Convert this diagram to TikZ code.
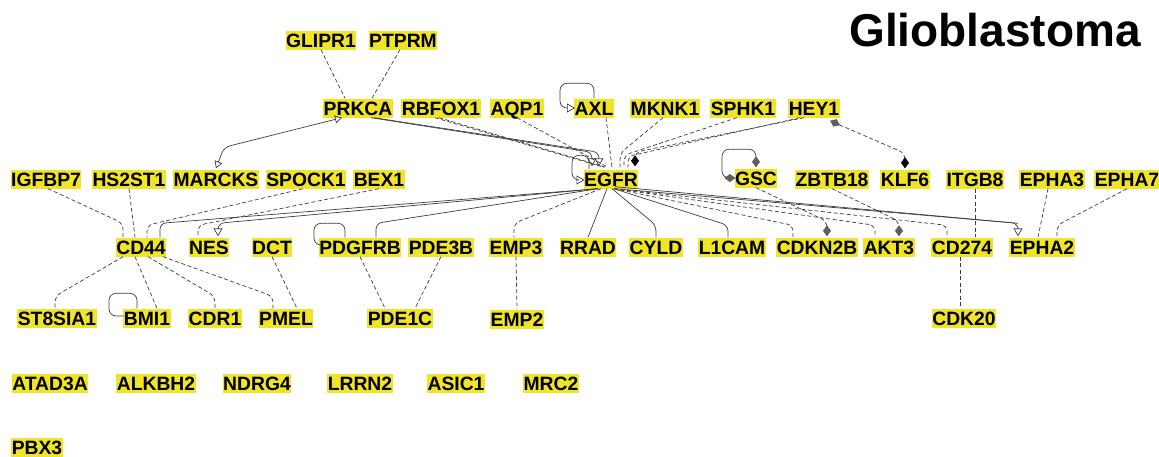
\documentclass[tikz,border=0pt]{standalone}
\usepackage{fontspec}
\setmainfont{Liberation Sans}
\usetikzlibrary{arrows.meta}
\definecolor{geneyellow}{RGB}{240,228,40}
\definecolor{edgec}{RGB}{60,60,60}
\definecolor{diagray}{RGB}{95,95,95}
\tikzset{
  gene/.style={fill=geneyellow, inner xsep=0.5pt, inner ysep=2.5pt, text height=14pt, text depth=0pt, font=\fontsize{19.3}{21}\selectfont\bfseries},
  solidrel/.style={draw=edgec, line width=0.7pt, rounded corners=6pt},
  looprel/.style={draw=edgec, line width=0.7pt, rounded corners=7pt},
  dashrel/.style={solidrel, dash pattern=on 4pt off 2.5pt},
  openarr/.style={-{Triangle[open,length=8pt,width=9pt]}},
  openboth/.style={{Triangle[open,length=7pt,width=8pt]}-{Triangle[open,length=7pt,width=8pt]}},
  graydia/.style={-{Diamond[length=11pt,width=8pt,color=diagray]}},
  blackdia/.style={-{Diamond[length=11pt,width=8pt,color=black]}},
  graybothdia/.style={{Diamond[length=11pt,width=8pt,color=diagray]}-{Diamond[length=11pt,width=8pt,color=diagray]}},
  hklf/.style={{Diamond[length=11pt,width=8pt,color=diagray]}-{Diamond[length=11pt,width=8pt,color=black]}},
  titlestyle/.style={font=\fontsize{46}{50}\selectfont\bfseries, inner sep=0pt}
}
\begin{document}
\begin{tikzpicture}[x=1pt,y=1pt]
\useasboundingbox (0,0) rectangle (1159,-456);
\node[titlestyle] (title) at (995,-30) {Glioblastoma};
% row 1
\node[gene] (glipr1) at (321,-40) {GLIPR1};
\node[gene] (ptprm) at (403,-40) {PTPRM};
% row 2
\node[gene] (prkca) at (358,-108) {PRKCA};
\node[gene] (rbfox1) at (441,-108) {RBFOX1};
\node[gene] (aqp1) at (517,-108) {AQP1};
\node[gene] (axl) at (594,-108) {AXL};
\node[gene] (mknk1) at (665,-108) {MKNK1};
\node[gene] (sphk1) at (743,-108) {SPHK1};
\node[gene] (hey1) at (814,-108) {HEY1};
% row 3
\node[gene] (igfbp7) at (46,-179) {IGFBP7};
\node[gene] (hs2st1) at (129,-179) {HS2ST1};
\node[gene] (marcks) at (216,-179) {MARCKS};
\node[gene] (spock1) at (306,-179) {SPOCK1};
\node[gene] (bex1) at (379,-179) {BEX1};
\node[gene] (egfr) at (611,-179) {EGFR};
\node[gene] (gsc) at (756,-178) {GSC};
\node[gene] (zbtb18) at (832,-179) {ZBTB18};
\node[gene] (klf6) at (905,-179) {KLF6};
\node[gene] (itgb8) at (975,-179) {ITGB8};
\node[gene] (epha3) at (1052,-179) {EPHA3};
\node[gene] (epha7) at (1127,-179) {EPHA7};
% row 4
\node[gene] (cd44) at (141,-247) {CD44};
\node[gene] (nes) at (209,-247) {NES};
\node[gene] (dct) at (272,-247) {DCT};
\node[gene] (pdgfrb) at (360,-247) {PDGFRB};
\node[gene] (pde3b) at (441,-247) {PDE3B};
\node[gene] (emp3) at (516,-247) {EMP3};
\node[gene] (rrad) at (588,-247) {RRAD};
\node[gene] (cyld) at (656,-247) {CYLD};
\node[gene] (l1cam) at (732,-247) {L1CAM};
\node[gene] (cdkn2b) at (817,-247) {CDKN2B};
\node[gene] (akt3) at (889,-247) {AKT3};
\node[gene] (cd274) at (962,-247) {CD274};
\node[gene] (epha2) at (1042,-247) {EPHA2};
% row 5
\node[gene] (st8sia1) at (57,-318) {ST8SIA1};
\node[gene] (bmi1) at (147,-318) {BMI1};
\node[gene] (cdr1) at (215,-318) {CDR1};
\node[gene] (pmel) at (286,-318) {PMEL};
\node[gene] (pde1c) at (400,-318) {PDE1C};
\node[gene] (emp2) at (517,-319) {EMP2};
\node[gene] (cdk20) at (964,-318) {CDK20};
% row 6
\node[gene] (atad3a) at (50,-383) {ATAD3A};
\node[gene] (alkbh2) at (156,-383) {ALKBH2};
\node[gene] (ndrg4) at (257,-383) {NDRG4};
\node[gene] (lrrn2) at (360,-383) {LRRN2};
\node[gene] (asic1) at (456,-383) {ASIC1};
\node[gene] (mrc2) at (551,-383) {MRC2};
% row 7
\node[gene] (pbx3) at (37,-447) {PBX3};

% ---- top relations
\draw[dashrel] (glipr1.south) -- ([xshift=-13pt]prkca.north);
\draw[dashrel] ([xshift=-3pt]ptprm.south) -- ([xshift=14pt]prkca.north);
\draw[solidrel, openboth] ([xshift=-16pt]prkca.south) -- ([xshift=8pt,yshift=22pt]marcks.north) -- ([yshift=1pt]marcks.north);
% into EGFR from the top
\draw[solidrel, openarr] ([xshift=13pt]prkca.south) -- ([xshift=-19pt,yshift=17pt]egfr.north) -- ([xshift=-19pt,yshift=3pt]egfr.north);
\draw[solidrel, openarr] ([xshift=16pt]prkca.south) -- ([xshift=-12pt,yshift=17pt]egfr.north) -- ([xshift=-12pt,yshift=3pt]egfr.north);
\draw[dashrel] ([xshift=-6pt]rbfox1.south) -- ([xshift=-7pt,yshift=2pt]egfr.north);
\draw[dashrel] ([xshift=-2pt]rbfox1.south) -- ([xshift=-5pt,yshift=2pt]egfr.north);
\draw[dashrel] (aqp1.south) -- ([xshift=-3pt,yshift=2pt]egfr.north);
\draw[dashrel] ([xshift=12pt]axl.south) -- ([xshift=1pt,yshift=2pt]egfr.north);
\draw[dashrel] ([xshift=-2pt]mknk1.south) -- ([xshift=9pt,yshift=16pt]egfr.north) -- ([xshift=9pt,yshift=2pt]egfr.north);
\draw[dashrel] ([xshift=-6pt]sphk1.south) -- ([xshift=13pt,yshift=14pt]egfr.north) -- ([xshift=13pt,yshift=2pt]egfr.north);
\draw[dashrel] ([xshift=-14pt]hey1.south) -- ([xshift=17pt,yshift=13pt]egfr.north) -- ([xshift=17pt,yshift=2pt]egfr.north);
\draw[dashrel, blackdia] ([xshift=-10pt]hey1.south) -- ([xshift=24pt,yshift=17pt]egfr.north) -- ([xshift=24pt,yshift=3pt]egfr.north);
\draw[dashrel, hklf] ([xshift=16pt,yshift=-3pt]hey1.south) -- ([yshift=16pt]klf6.north) -- ([yshift=1pt]klf6.north);
% self loops
\draw[looprel, openarr] ([xshift=-22pt]egfr.north) -- ++(0,14) -- ++(-17,0) |- ([xshift=1pt,yshift=-1pt]egfr.west);
\draw[looprel, openarr] (axl.north) -- ++(0,15) -- ++(-34,0) |- ([xshift=1pt]axl.west);
\draw[looprel, graybothdia] ([yshift=1pt]gsc.north) -- ++(0,18) -- ++(-34,0) |- ([xshift=1pt]gsc.west);
\draw[looprel] ([xshift=-15pt]pdgfrb.north) -- ++(0,14) -- ++(-31,0) |- ([xshift=2pt,yshift=2pt]pdgfrb.west);
\draw[looprel] ([xshift=-10pt]bmi1.north) -- ++(0,15) -- ++(-28,0) |- ([xshift=1pt,yshift=2pt]bmi1.west);

% ---- from EGFR downward
\draw[solidrel] ([xshift=-13pt]egfr.south) -- ([xshift=19pt,yshift=14pt]cd44.north) -- ([xshift=19pt]cd44.north);
\draw[solidrel, openarr] ([xshift=-13pt]egfr.south) -- ([xshift=9pt,yshift=14pt]nes.north) -- ([xshift=9pt,yshift=1pt]nes.north);
\draw[solidrel] ([xshift=-13pt]egfr.south) -- ([xshift=16pt,yshift=14pt]pdgfrb.north) -- ([xshift=16pt]pdgfrb.north);
\draw[dashrel] ([xshift=-10pt]egfr.south) -- ([xshift=-2pt,yshift=14pt]emp3.north) -- ([xshift=-2pt]emp3.north);
\draw[solidrel] ([xshift=-4pt]egfr.south) -- (rrad.north);
\draw[solidrel] ([xshift=1pt]egfr.south) -- ([yshift=12pt]cyld.north) -- (cyld.north);
\draw[solidrel] ([xshift=3pt]egfr.south) -- ([xshift=-4pt,yshift=12pt]l1cam.north) -- ([xshift=-4pt]l1cam.north);
\draw[dashrel] ([xshift=3pt]egfr.south) -- ([xshift=-24pt,yshift=12pt]cdkn2b.north) -- ([xshift=-24pt]cdkn2b.north);
\draw[dashrel] ([xshift=3pt]egfr.south) -- ([xshift=-14pt,yshift=12pt]akt3.north) -- ([xshift=-14pt]akt3.north);
\draw[dashrel] ([xshift=3pt]egfr.south) -- ([xshift=-15pt,yshift=12pt]cd274.north) -- ([xshift=-15pt]cd274.north);
\draw[solidrel] ([xshift=4pt]egfr.south) -- ([xshift=-24pt,yshift=14pt]epha2.north);
\draw[solidrel, openarr] ([xshift=4pt,yshift=2pt]egfr.south) -- ([xshift=-24pt,yshift=14pt]epha2.north) -- ([xshift=-24pt,yshift=1pt]epha2.north);

% ---- around CD44
\draw[dashrel] ([xshift=2pt]igfbp7.south) -- ([xshift=-18pt,yshift=14pt]cd44.north) -- ([xshift=-18pt]cd44.north);
\draw[dashrel] (hs2st1.south) -- ([xshift=-6pt]cd44.north);
\draw[dashrel] ([xshift=-3pt]spock1.south) -- ([xshift=6pt,yshift=12pt]cd44.north) -- ([xshift=6pt]cd44.north);
\draw[dashrel] (bex1.south) -- ([xshift=-11pt,yshift=12pt]nes.north) -- ([xshift=-11pt]nes.north);
\draw[dashrel] ([xshift=-18pt]cd44.south) -- ([xshift=-2pt,yshift=12pt]st8sia1.north) -- ([xshift=-2pt]st8sia1.north);
\draw[dashrel] ([xshift=-6pt]cd44.south) -- ([xshift=10pt]bmi1.north);
\draw[dashrel] ([xshift=7pt]cd44.south) -- ([yshift=12pt]cdr1.north) -- (cdr1.north);
\draw[dashrel] ([xshift=22pt]cd44.south) -- ([xshift=-13pt,yshift=12pt]pmel.north) -- ([xshift=-13pt]pmel.north);
\draw[dashrel] (dct.south) -- ([xshift=11pt]pmel.north);
\draw[dashrel] (pdgfrb.south) -- ([xshift=-15pt]pde1c.north);
\draw[dashrel] (pde3b.south) -- ([xshift=15pt]pde1c.north);
\draw[dashrel] (emp3.south) -- (emp2.north);

% ---- right side
\draw[dashrel, graydia] (gsc.south) -- ([xshift=10pt,yshift=16pt]cdkn2b.north) -- ([xshift=10pt,yshift=1pt]cdkn2b.north);
\draw[dashrel, graydia] (zbtb18.south) -- ([xshift=10pt,yshift=16pt]akt3.north) -- ([xshift=10pt,yshift=1pt]akt3.north);
\draw[dashrel] (itgb8.south) -- ([xshift=13pt]cd274.north);
\draw[dashrel] ([xshift=-4pt]epha3.south) -- ([xshift=-4pt]epha2.north);
\draw[dashrel] (epha7.south) -- ([xshift=15pt,yshift=12pt]epha2.north) -- ([xshift=15pt]epha2.north);
\draw[dashrel] ([xshift=-2pt]cd274.south) -- ([xshift=-4pt]cdk20.north);
\end{tikzpicture}
\end{document}
